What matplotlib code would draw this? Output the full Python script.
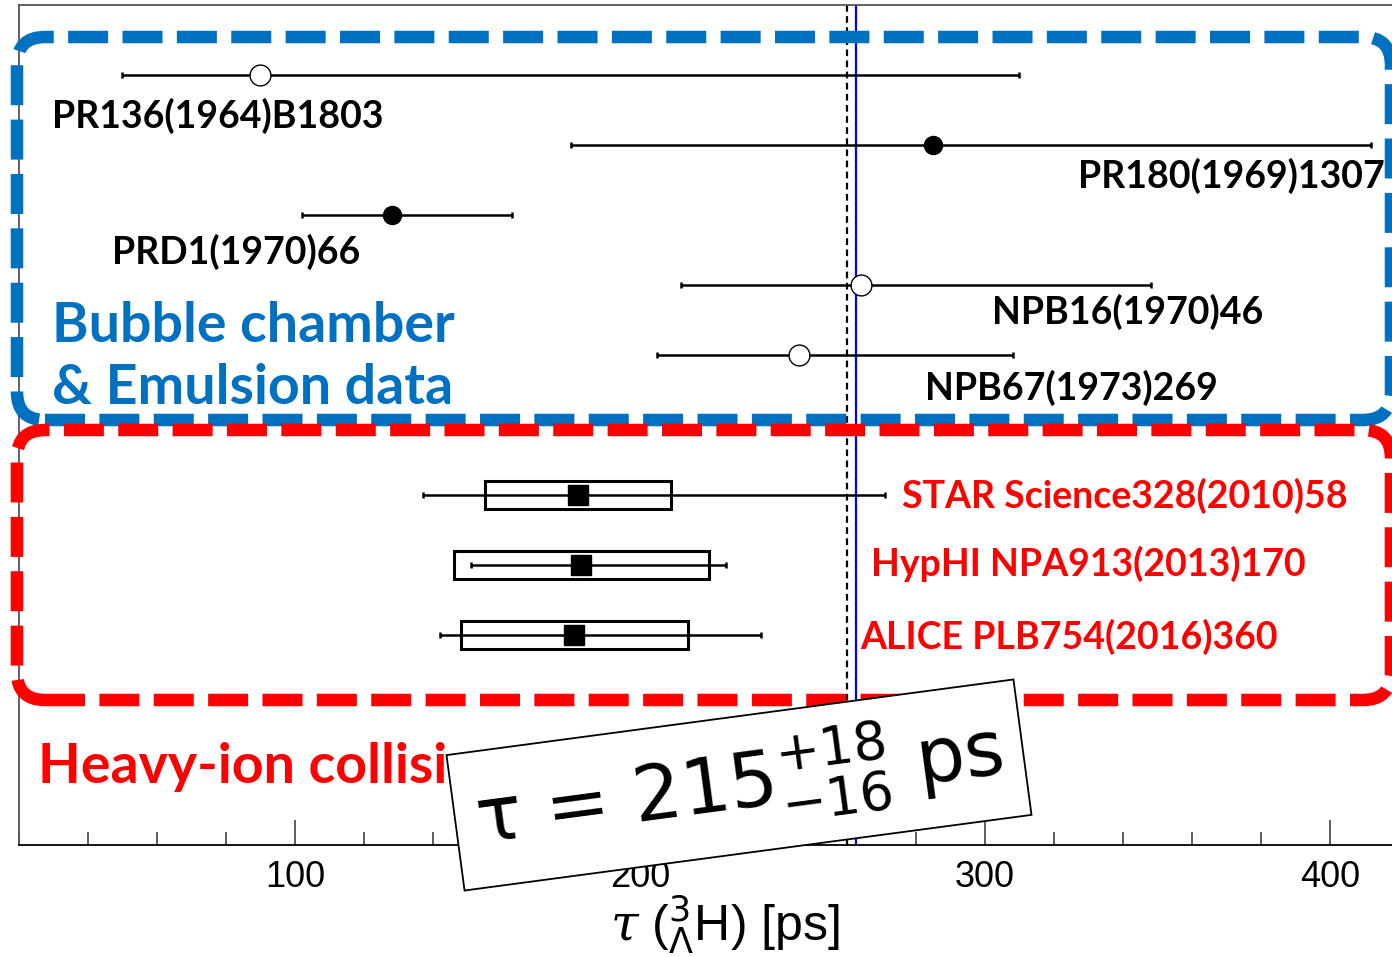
import matplotlib.pyplot as plt
from matplotlib.patches import FancyBboxPatch
from matplotlib.ticker import MultipleLocator

W, H = 1392, 957

# bubble chamber / emulsion measurements of the hypertriton lifetime [ps]
old_labels = ["PR136(1964)B1803", "PR180(1969)1307", "PRD1(1970)66",
              "NPB16(1970)46", "NPB67(1973)269"]
old_tau = [90, 285, 128, 264, 246]
old_up = [220, 127, 35, 84, 62]
old_down = [40, 105, 26, 52, 41]
old_filled = [False, True, True, False, False]
old_rows = [0, 1, 2, 3, 4]

# heavy-ion collision results: stat (asymmetric) and syst errors
hi_labels = ["STAR Science328(2010)58", "HypHI NPA913(2013)170",
             "ALICE PLB754(2016)360"]
hi_tau = [182, 183, 181]
hi_up = [89, 42, 54]
hi_down = [45, 32, 39]
hi_syst = [27, 37, 33]
hi_rows = [6, 7, 8]

tau_calc = 260.0      # dashed reference line
tau_lambda = 262.6    # free Lambda lifetime

BLUE = "#0070C0"
RED = "#FF0000"
LABEL_FONT = ["Lato", "DejaVu Sans"]

plt.rcParams["mathtext.fontset"] = "custom"
plt.rcParams["mathtext.rm"] = "DejaVu Sans"
plt.rcParams["mathtext.it"] = "DejaVu Serif:italic"
plt.rcParams["mathtext.bf"] = "DejaVu Sans:bold"

fig = plt.figure(figsize=(W / 100, H / 100), dpi=100)
x0, x1 = 19, 1430
ax = fig.add_axes([x0 / W, 112 / H, (x1 - x0) / W, 840 / H])


def px2tau(px):
    return 100 + (px - 295) / 3.45


ax.set_xlim(px2tau(x0), px2tau(x1))
ax.set_ylim(11, -1)

# old data
for t, up, dn, filled, r in zip(old_tau, old_up, old_down, old_filled, old_rows):
    ax.errorbar(t, r, xerr=[[dn], [up]], fmt="none", ecolor="black",
                elinewidth=1.8, capsize=2.5, capthick=1.8, zorder=3)
    ax.plot(t, r, "o", ms=15 if not filled else 13,
            mfc="black" if filled else "white", mec="black", mew=1.0, zorder=4)

# heavy-ion data with syst boxes
for t, up, dn, sy, r in zip(hi_tau, hi_up, hi_down, hi_syst, hi_rows):
    ax.add_patch(plt.Rectangle((t - sy, r - 0.2), 2 * sy, 0.4, fill=False,
                               ec="black", lw=2.2, zorder=3))
    ax.errorbar(t, r, xerr=[[dn], [up]], fmt="none", ecolor="black",
                elinewidth=1.8, capsize=2.5, capthick=1.8, zorder=3)
    ax.plot(t, r, "s", ms=15, color="black", zorder=4)

ax.axvline(tau_calc, color="black", ls=(0, (3, 2)), lw=1.6, zorder=2)
ax.axvline(tau_lambda, color="blue", lw=1.6, zorder=2)

# axes styling
ax.set_yticks([])
ax.spines["right"].set_visible(False)
ax.spines["top"].set_color("#555555")
ax.spines["left"].set_color("#555555")
for s in ax.spines.values():
    s.set_linewidth(1.3)
ax.xaxis.set_major_locator(MultipleLocator(100))
ax.xaxis.set_minor_locator(MultipleLocator(20))
ax.tick_params(axis="x", which="major", direction="in", length=18, width=1.1,
               labelsize=26, pad=11, color="#333333")
ax.tick_params(axis="x", which="minor", direction="in", length=9.5, width=1.1,
               color="#333333")
for lab in ax.get_xticklabels():
    lab.set_fontfamily("Liberation Sans")
ax.set_xlabel(r"$\it{\tau}$ ($^{3}_{\Lambda}$H) [ps]", fontsize=36,
              fontfamily="Liberation Sans", labelpad=-1)

# data labels
label_pos = [(52, 116, "left"), (1385, 176, "right"), (112, 252, "left"),
             (992, 312, "left"), (925, 388, "left")]
for (px, py, ha), txt in zip(label_pos, old_labels):
    fig.text(px / W, 1 - py / H, txt, ha=ha, va="center", fontsize=27,
             fontweight="bold", family=LABEL_FONT, color="black")

hi_pos = [(902, 496), (871, 564), (860, 637)]
for (px, py), txt in zip(hi_pos, hi_labels):
    fig.text(px / W, 1 - py / H, txt, ha="left", va="center", fontsize=27,
             fontweight="bold", family=LABEL_FONT, color=RED)

fig.text(52 / W, 1 - 326 / H, "Bubble chamber", ha="left", va="center",
         fontsize=40, fontweight="bold", family=LABEL_FONT, color=BLUE)
fig.text(52 / W, 1 - 388 / H, "& Emulsion data", ha="left", va="center",
         fontsize=40, fontweight="bold", family=LABEL_FONT, color=BLUE)
fig.text(38 / W, 1 - 767 / H, "Heavy-ion collisions", ha="left", va="center",
         fontsize=40, fontweight="bold", family=LABEL_FONT, color=RED)


# dashed rounded frames around the two groups (pixel coords, y from top)
def frame(left, top, right, bottom, color):
    p = FancyBboxPatch((left / W, 1 - bottom / H), (right - left) / W,
                       (bottom - top) / H,
                       boxstyle="round,pad=0,rounding_size=%f" % (28 / W),
                       mutation_aspect=W / H, transform=fig.transFigure,
                       fill=False, ec=color, lw=9,
                       ls=(0, (3.2, 1.15)), zorder=5)
    fig.add_artist(p)


frame(17, 37, 1391, 420, BLUE)
frame(17, 430, 1391, 700, RED)

# lifetime result box
fig.text(739 / W, 1 - 785 / H, r"τ = 215$^{+18}_{-16}$ ps",
         ha="center", va="center", rotation=7.6, rotation_mode="anchor",
         fontsize=55, family="DejaVu Sans", zorder=10,
         bbox=dict(boxstyle="square,pad=0.27", fc="white", ec="black", lw=1.3))

fig.savefig("out.png", dpi=100)
